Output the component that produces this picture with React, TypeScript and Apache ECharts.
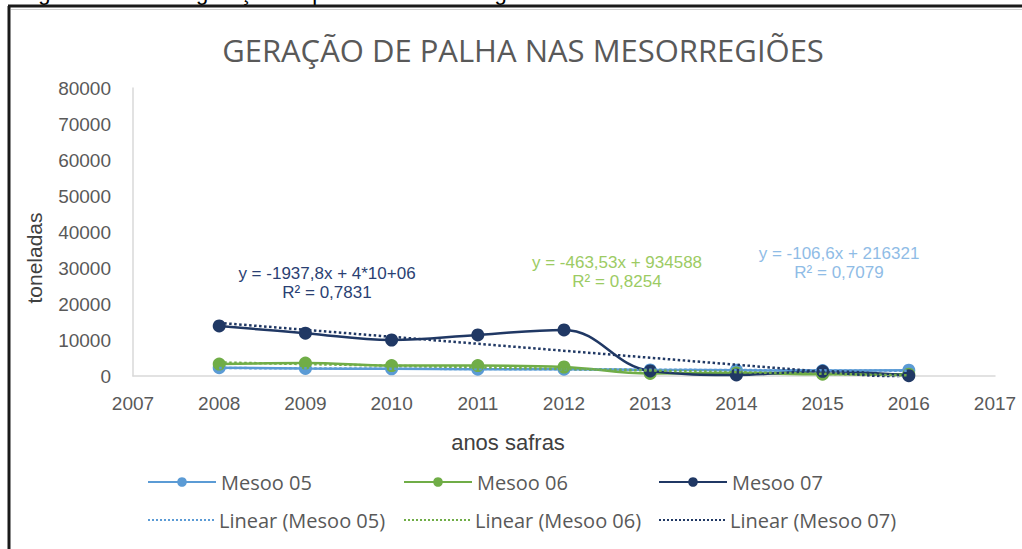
import React, { useEffect, useRef } from "react";
import * as echarts from "echarts";

const years = [2008, 2009, 2010, 2011, 2012, 2013, 2014, 2015, 2016];
const mesoo05 = [2300, 2100, 2000, 1900, 1900, 1700, 1600, 1500, 1600];
const mesoo06 = [3300, 3600, 2900, 2900, 2500, 700, 800, 500, 500];
const mesoo07 = [13900, 11900, 10000, 11400, 12800, 1400, 300, 1300, 100];

const seriesNames = ["Mesoo 05", "Mesoo 06", "Mesoo 07"];
const trendNames = ["Linear (Mesoo 05)", "Linear (Mesoo 06)", "Linear (Mesoo 07)"];
const equations = ["y = -106,6x + 216321", "y = -463,53x + 934588", "y = -1937,8x + 4*10+06"];
const r2Labels = ["R² = 0,7079", "R² = 0,8254", "R² = 0,7831"];

const yTicks = { min: 0, max: 80000, interval: 10000 };
const xTicks = { min: 2007, max: 2017, interval: 1 };

const titleText = "GERAÇÃO DE PALHA NAS MESORREGIÕES";
const captionText = "Figura 8 – Mesos geração de palha nas mesorregiões";
const xName = "anos safras";
const yName = "toneladas";

const colors = ["#5B9BD5", "#70AD47", "#203864"];
const eqColors = ["#8FBCE6", "#9CCB63", "#2A3F73"];

function fitLine(xs: number[], ys: number[]) {
  const n = xs.length;
  const mx = xs.reduce((a, b) => a + b, 0) / n;
  const my = ys.reduce((a, b) => a + b, 0) / n;
  let sxy = 0;
  let sxx = 0;
  for (let i = 0; i < n; i++) {
    sxy += (xs[i] - mx) * (ys[i] - my);
    sxx += (xs[i] - mx) * (xs[i] - mx);
  }
  const b = sxy / sxx;
  const a = my - b * mx;
  return (x: number) => a + b * x;
}

export default function App() {
  const ref = useRef<HTMLDivElement>(null);
  useEffect(() => {
    if (!ref.current) return;
    const chart = echarts.init(ref.current, undefined, { renderer: "svg" });
    const all = [mesoo05, mesoo06, mesoo07];
    const lineSeries = all.map((vals, i) => ({
      name: seriesNames[i],
      type: "line",
      smooth: 0.4,
      data: years.map((y, j) => [y, vals[j]]),
      symbol: "circle",
      symbolSize: 13,
      itemStyle: { color: colors[i] },
      lineStyle: { color: colors[i], width: 2.5 },
      z: 2 + i,
    }));
    const trendSeries = all.map((vals, i) => {
      const f = fitLine(years, vals);
      const x0 = years[0];
      const x1 = years[years.length - 1];
      return {
        name: trendNames[i],
        type: "line",
        data: [
          [x0, f(x0)],
          [x1, f(x1)],
        ],
        symbol: "none",
        itemStyle: { color: colors[i] },
        lineStyle: { color: colors[i], width: 2.5, type: "dotted" },
        z: 6,
      };
    });
    const legendFont = { fontFamily: "Open Sans", fontSize: 20, color: "#595959" };
    const cols = [147, 403, 658];
    const legends: any[] = [];
    seriesNames.forEach((n, i) =>
      legends.push({
        data: [n],
        left: cols[i],
        top: 472,
        padding: 0,
        itemWidth: 68,
        itemHeight: 12,
        itemGap: 6,
        textStyle: legendFont,
        selectedMode: false,
      })
    );
    trendNames.forEach((n, i) =>
      legends.push({
        data: [n],
        left: cols[i],
        top: 510,
        padding: 0,
        itemWidth: 66,
        itemHeight: 12,
        textStyle: legendFont,
        itemStyle: { color: "rgba(0,0,0,0)", borderColor: "rgba(0,0,0,0)", borderWidth: 0 },
        selectedMode: false,
      })
    );
    const eqPos = [
      [839, 253],
      [617, 262],
      [327, 273],
    ];
    const eqGraphics: any[] = [];
    equations.forEach((eq, i) => {
      eqGraphics.push({
        type: "text",
        x: eqPos[i][0],
        y: eqPos[i][1],
        style: {
          text: eq,
          fill: eqColors[i],
          font: "17px 'Liberation Sans'",
          textAlign: "center",
          textVerticalAlign: "middle",
        },
      });
      eqGraphics.push({
        type: "text",
        x: eqPos[i][0],
        y: eqPos[i][1] + 19,
        style: {
          text: r2Labels[i],
          fill: eqColors[i],
          font: "17px 'Liberation Sans'",
          textAlign: "center",
          textVerticalAlign: "middle",
        },
      });
    });
    chart.setOption({
      animation: false,
      backgroundColor: "#ffffff",
      grid: { left: 133, right: 27, top: 88, bottom: 173 },
      xAxis: {
        type: "value",
        min: xTicks.min,
        max: xTicks.max,
        interval: xTicks.interval,
        axisLine: { show: true, lineStyle: { color: "#D9D9D9", width: 1.5 } },
        axisTick: { show: false },
        splitLine: { show: false },
        axisLabel: {
          color: "#595959",
          fontFamily: "Liberation Sans",
          fontSize: 19,
          margin: 18,
          formatter: (v: number) => String(v),
        },
      },
      yAxis: {
        type: "value",
        min: yTicks.min,
        max: yTicks.max,
        interval: yTicks.interval,
        axisLine: { show: true, lineStyle: { color: "#D9D9D9", width: 1.5 } },
        axisTick: { show: false },
        splitLine: { show: false },
        axisLabel: {
          color: "#595959",
          fontFamily: "Liberation Sans",
          fontSize: 19,
          margin: 22,
          formatter: (v: number) => String(v),
        },
      },
      legend: legends,
      series: [...lineSeries, ...trendSeries],
      graphic: [
        {
          type: "text",
          x: 20,
          y: -19,
          style: { text: captionText, fill: "#000", font: "22px 'Liberation Sans'" },
        },
        {
          type: "line",
          shape: { x1: 8, y1: 6, x2: 1022, y2: 6 },
          style: { stroke: "#1a1a1a", lineWidth: 3 },
        },
        {
          type: "line",
          shape: { x1: 9, y1: 6, x2: 9, y2: 549 },
          style: { stroke: "#1a1a1a", lineWidth: 3 },
        },
        {
          type: "line",
          shape: { x1: 11, y1: 9.5, x2: 1022, y2: 9.5 },
          style: { stroke: "#D0D0D0", lineWidth: 1 },
        },
        {
          type: "text",
          x: 523,
          y: 50,
          style: {
            text: titleText,
            fill: "#595959",
            font: "31px 'Open Sans'",
            textAlign: "center",
            textVerticalAlign: "middle",
          },
        },
        {
          type: "text",
          x: 508,
          y: 442,
          style: {
            text: xName,
            fill: "#404040",
            font: "22px 'Liberation Sans'",
            textAlign: "center",
            textVerticalAlign: "middle",
          },
        },
        {
          type: "text",
          x: 34,
          y: 258,
          rotation: Math.PI / 2,
          style: {
            text: yName,
            fill: "#404040",
            font: "21px 'Liberation Sans'",
            textAlign: "center",
            textVerticalAlign: "middle",
          },
        },
        ...eqGraphics,
      ],
    });
    return () => chart.dispose();
  }, []);
  return (
    <div
      ref={ref}
      style={{ position: "fixed", left: 0, top: 0, width: 1022, height: 549, background: "#fff" }}
    />
  );
}
